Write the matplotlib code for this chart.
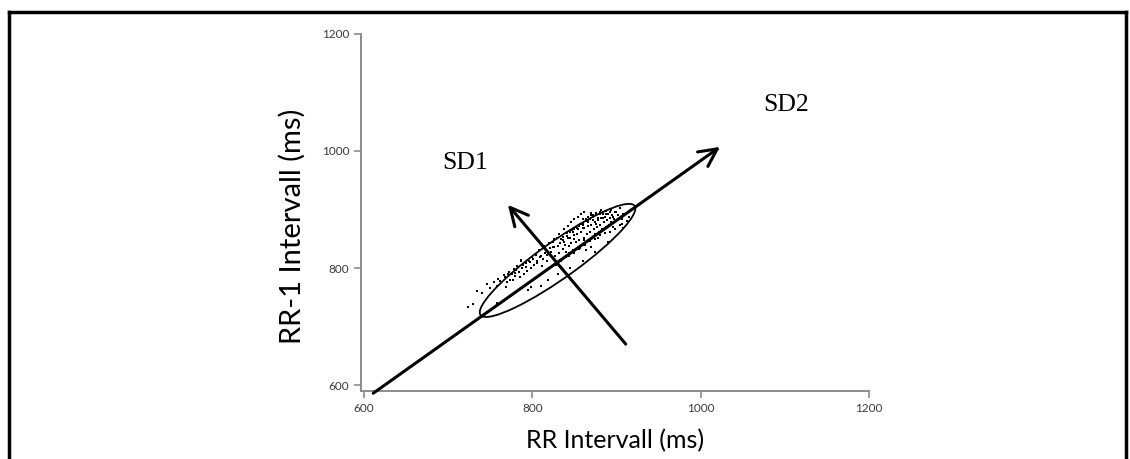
import numpy as np
import matplotlib
matplotlib.use("Agg")
import matplotlib.pyplot as plt
from matplotlib.patches import Ellipse
from matplotlib.lines import Line2D

# RR intervals (x) and following RR-1 intervals (y)
rr = [724, 729, 734, 740, 759, 758, 767, 771, 769, 777, 780, 781, 785, 787, 789, 793,
      795, 797, 799, 801, 806, 809, 813, 817, 819, 821, 825, 829, 831, 833, 837, 839,
      841, 843, 845, 847, 849, 853, 855, 857, 860, 862, 864, 866, 868, 870, 872, 876,
      878, 880, 884, 888, 890, 892, 896, 900, 904, 906, 908,
      822, 825, 827, 830, 832, 834, 836, 838, 840, 841, 843, 845, 846, 848, 849, 850,
      852, 853, 855, 856, 857, 858, 860, 861, 862, 863, 864, 865, 866, 867, 868, 869,
      870, 871, 872, 873, 874, 875, 876, 877, 878, 879, 880, 881, 882, 883, 884, 885,
      886, 887, 888, 889, 890, 891, 892, 893, 894, 895, 896, 897, 898, 900, 902, 904,
      906, 908, 912, 915,
      818, 815, 812, 810, 808, 806, 804, 802, 800, 798, 796, 794, 792, 790, 788, 786,
      784, 782, 780, 778, 776, 774, 772, 770, 766, 762, 758, 754, 750, 746,
      814, 820, 826, 832, 838, 842, 846, 850, 854, 858, 862,
      844, 850, 856, 862, 868, 874, 880, 886, 892, 898, 834, 828, 840, 870, 866, 860,
      810, 830, 845, 860, 875, 890,
      852, 858, 864, 870, 876, 882, 848, 854, 860, 866, 872, 878, 884, 836, 842, 826]
rr_next = [734, 738, 761, 758, 781, 740, 785, 789, 768, 780, 791, 797, 785, 814, 805, 802,
           762, 811, 768, 816, 808, 819, 816, 822, 780, 834, 836, 851, 808, 842, 853, 839,
           859, 825, 851, 865, 856, 868, 836, 876, 868, 848, 831, 882, 862, 836, 891, 876,
           851, 896, 885, 893, 871, 896, 888, 896, 902, 876, 868,
           828, 845, 820, 838, 826, 850, 832, 845, 828, 855, 838, 862, 842, 830, 850, 866,
           845, 858, 872, 848, 835, 862, 876, 852, 868, 840, 880, 858, 871, 846, 884, 862,
           874, 852, 888, 866, 878, 858, 890, 870, 882, 862, 892, 874, 885, 866, 896, 878,
           888, 870, 898, 882, 892, 874, 886, 900, 878, 890, 870, 884, 895, 880, 890, 874,
           884, 892, 880, 888,
           812, 826, 804, 820, 830, 812, 822, 806, 818, 800, 812, 795, 808, 790, 800, 812,
           794, 804, 786, 798, 790, 780, 794, 776, 788, 778, 770, 776, 765, 772,
           838, 842, 850, 858, 866, 872, 878, 884, 888, 892, 895,
           820, 826, 832, 840, 846, 850, 856, 860, 862, 866, 812, 806, 818, 894, 888, 884,
           770, 790, 800, 812, 828, 845,
           870, 876, 884, 890, 894, 900, 862, 866, 874, 878, 882, 886, 892, 848, 852, 836]

# ellipse fitted on the cloud and its two axes
ell_center = (830, 813)
ell_len = 262
ell_width = 54
ell_angle = 46.4
sd1_from, sd1_to = (911, 670), (771, 908)
sd2_from, sd2_to = (611, 586), (1023, 1007)

ticks = [600, 800, 1000, 1200]
axis_grey = "#8c8c8c"

fig = plt.figure(figsize=(11.3, 4.59), dpi=100)
ax = fig.add_axes([0.3195, 0.148, 0.4495, 0.778])

ax.scatter(rr, rr_next, s=3.2, marker="s", color="black", linewidths=0)
ax.add_patch(Ellipse(ell_center, ell_width, ell_len, angle=ell_angle - 90,
                     fill=False, edgecolor="black", lw=1.3))

arrow = dict(arrowstyle="->", lw=2.2, color="black", mutation_scale=32,
             shrinkA=0, shrinkB=0)
ax.annotate("", xy=sd2_to, xytext=sd2_from, arrowprops=arrow, annotation_clip=False)
ax.annotate("", xy=sd1_to, xytext=sd1_from, arrowprops=arrow, annotation_clip=False)

ax.text(720, 979, "SD1", family="Liberation Serif", fontsize=18.5,
        ha="center", va="center")
ax.text(1102, 1078, "SD2", family="Liberation Serif", fontsize=18.5,
        ha="center", va="center")

ax.set_xlim(596.5, 1200)
ax.set_ylim(589.7, 1200)
ax.set_xticks(ticks)
ax.set_yticks(ticks)
ax.tick_params(colors=axis_grey, labelcolor="#3a3a3a", labelsize=8.5,
               length=5, width=1.2)
for lab in ax.get_xticklabels() + ax.get_yticklabels():
    lab.set_family("Lato")
for side in ["top", "right"]:
    ax.spines[side].set_visible(False)
for side in ["left", "bottom"]:
    ax.spines[side].set_color(axis_grey)
    ax.spines[side].set_linewidth(1.4)

ax.set_xlabel("RR Intervall (ms)", family="Lato", fontsize=18, labelpad=11)
ax.set_ylabel("RR-1 Intervall (ms)", family="Lato", fontsize=21)
ax.yaxis.set_label_coords(-0.108, 0.462)

# frame round the figure (no bottom edge)
fig.add_artist(Line2D([0.0077, 0.9965], [0.973, 0.973], color="black", lw=2.5))
fig.add_artist(Line2D([0.0077, 0.0077], [0.0, 0.973], color="black", lw=2.5))
fig.add_artist(Line2D([0.9965, 0.9965], [0.0, 0.973], color="black", lw=2.5))

fig.savefig("out.png", dpi=100)
